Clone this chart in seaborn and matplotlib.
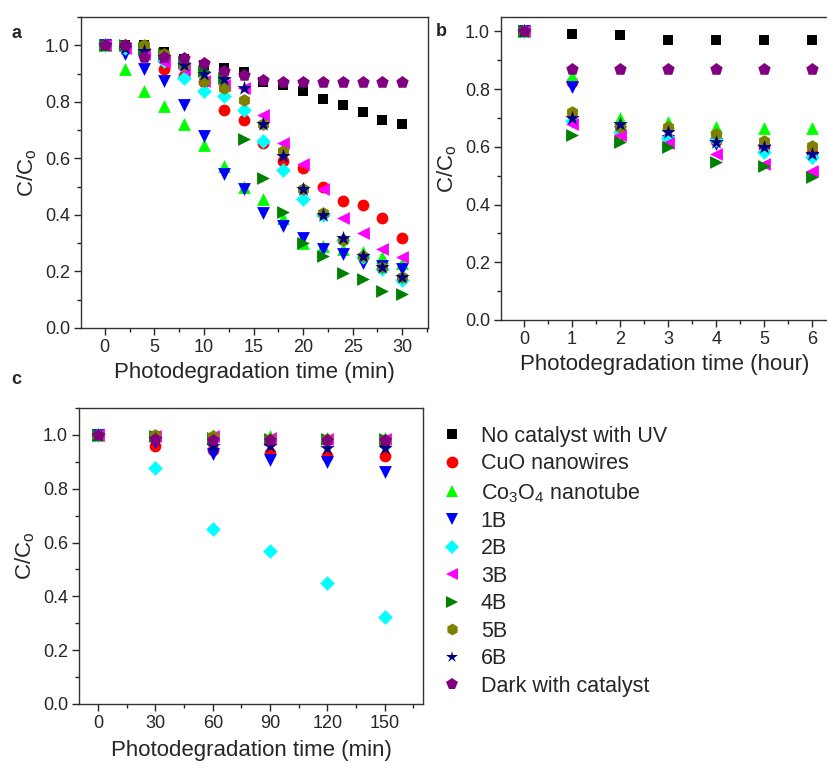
import numpy as np
import pandas as pd
import matplotlib
matplotlib.use("Agg")
import matplotlib.pyplot as plt
from matplotlib.lines import Line2D
from matplotlib.ticker import MultipleLocator
import seaborn as sns

# ---------------- data ----------------
series = ["No catalyst with UV", "CuO nanowires", "Co$_3$O$_4$ nanotube", "1B", "2B",
          "3B", "4B", "5B", "6B", "Dark with catalyst"]
colors = ["#000000", "#ff0000", "#00ff00", "#0000ff", "#00ffff",
          "#ff00ff", "#008000", "#808000", "#000080", "#800080"]
markers = ["s", "o", "^", "v", "D", "<", ">", "h", "*", "p"]

# panel a (min)
time_a = [0, 2, 4, 6, 8, 10, 12, 14, 16, 18, 20, 22, 24, 26, 28, 30]
noUV_a = [1.0, 1.0, 1.0, 0.975, 0.95, 0.93, 0.92, 0.905, 0.87, 0.86, 0.84, 0.81, 0.79, 0.765, 0.735, 0.72]
CuO_a = [1.0, 0.99, 0.97, 0.915, 0.89, 0.87, 0.77, 0.735, 0.655, 0.59, 0.565, 0.50, 0.45, 0.435, 0.39, 0.32]
Co3O4_a = [1.0, 0.915, 0.84, 0.785, 0.72, 0.647, 0.572, 0.50, 0.455, 0.39, 0.30, 0.29, 0.28, 0.27, 0.25, 0.23]
oneB_a = [1.0, 0.97, 0.915, 0.875, 0.79, 0.68, 0.545, 0.49, 0.405, 0.36, 0.32, 0.28, 0.26, 0.23, 0.22, 0.21]
twoB_a = [1.0, 0.99, 0.97, 0.945, 0.885, 0.84, 0.82, 0.77, 0.66, 0.56, 0.455, 0.40, 0.31, 0.25, 0.21, 0.17]
threeB_a = [1.0, 0.99, 0.97, 0.94, 0.915, 0.875, 0.86, 0.85, 0.755, 0.655, 0.58, 0.49, 0.39, 0.335, 0.28, 0.25]
fourB_a = [1.0, 1.0, 0.99, 0.97, 0.94, 0.91, 0.885, 0.67, 0.53, 0.41, 0.30, 0.255, 0.195, 0.175, 0.13, 0.12]
fiveB_a = [1.0, 1.0, 1.0, 0.97, 0.93, 0.875, 0.85, 0.805, 0.72, 0.625, 0.49, 0.405, 0.31, 0.255, 0.215, 0.18]
sixB_a = [1.0, 0.99, 0.98, 0.96, 0.93, 0.90, 0.88, 0.85, 0.72, 0.61, 0.49, 0.40, 0.32, 0.255, 0.215, 0.18]
dark_a = [1.0, 1.0, 0.96, 0.957, 0.955, 0.936, 0.91, 0.894, 0.876, 0.87, 0.87, 0.87, 0.87, 0.87, 0.87, 0.87]

# panel b (hour)
time_b = [0, 1, 2, 3, 4, 5, 6]
noUV_b = [1.0, 0.992, 0.986, 0.972, 0.972, 0.972, 0.972]
CuO_b = [1.0, 0.825, 0.64, 0.63, 0.62, 0.60, 0.58]
Co3O4_b = [1.0, 0.844, 0.70, 0.686, 0.67, 0.667, 0.667]
oneB_b = [1.0, 0.807, 0.65, 0.62, 0.61, 0.59, 0.56]
twoB_b = [1.0, 0.69, 0.652, 0.632, 0.625, 0.582, 0.565]
threeB_b = [1.0, 0.678, 0.64, 0.614, 0.574, 0.54, 0.517]
fourB_b = [1.0, 0.64, 0.617, 0.60, 0.548, 0.533, 0.494]
fiveB_b = [1.0, 0.72, 0.67, 0.67, 0.646, 0.62, 0.604]
sixB_b = [1.0, 0.70, 0.68, 0.652, 0.617, 0.60, 0.574]
dark_b = [1.0, 0.871, 0.871, 0.871, 0.871, 0.871, 0.871]

# panel c (min, dark)
time_c = [0, 30, 60, 90, 120, 150]
noUV_c = [1.0, 0.995, 0.99, 0.98, 0.98, 0.975]
CuO_c = [1.0, 0.96, 0.944, 0.932, 0.923, 0.921]
Co3O4_c = [1.0, 1.0, 1.0, 0.995, 0.99, 0.99]
oneB_c = [1.0, 0.975, 0.93, 0.905, 0.90, 0.862]
twoB_c = [1.0, 0.878, 0.649, 0.569, 0.451, 0.323]
threeB_c = [1.0, 0.995, 0.995, 0.99, 0.985, 0.985]
fourB_c = [1.0, 0.995, 0.99, 0.985, 0.985, 0.985]
fiveB_c = [1.0, 1.0, 0.995, 0.985, 0.985, 0.98]
sixB_c = [1.0, 0.985, 0.96, 0.96, 0.952, 0.952]
dark_c = [1.0, 0.985, 0.98, 0.98, 0.98, 0.98]

vals_a = [noUV_a, CuO_a, Co3O4_a, oneB_a, twoB_a, threeB_a, fourB_a, fiveB_a, sixB_a, dark_a]
vals_b = [noUV_b, CuO_b, Co3O4_b, oneB_b, twoB_b, threeB_b, fourB_b, fiveB_b, sixB_b, dark_b]
vals_c = [noUV_c, CuO_c, Co3O4_c, oneB_c, twoB_c, threeB_c, fourB_c, fiveB_c, sixB_c, dark_c]


def long_df(t, vals):
    rows = []
    for name, v in zip(series, vals):
        for ti, vi in zip(t, v):
            rows.append({"t": ti, "C": vi, "series": name})
    return pd.DataFrame(rows)


# ---------------- style ----------------
sns.set_theme(style="ticks")
plt.rcParams["font.family"] = ["Liberation Sans", "DejaVu Sans"]
plt.rcParams["mathtext.fontset"] = "custom"
plt.rcParams["mathtext.rm"] = "Liberation Sans"
plt.rcParams["mathtext.it"] = "Liberation Sans"
plt.rcParams["axes.linewidth"] = 1.0

W, H = 827, 763
fig = plt.figure(figsize=(W / 100, H / 100), dpi=100)


def px_axes(left, top, right, bottom):
    return fig.add_axes([left / W, (H - bottom) / H, (right - left) / W, (bottom - top) / H])


ax_a = px_axes(81, 17, 428, 328)
ax_b = px_axes(501, 17, 829, 320)
ax_c = px_axes(79, 408, 423, 704)

palette = dict(zip(series, colors))
mk = dict(zip(series, markers))
sizes = {"s": 62, "o": 72, "^": 85, "v": 85, "D": 56, "<": 85, ">": 85, "h": 82, "*": 120, "p": 88}

for ax, t, vals in [(ax_a, time_a, vals_a), (ax_b, time_b, vals_b), (ax_c, time_c, vals_c)]:
    df = long_df(t, vals)
    for name in series:
        sub = df[df["series"] == name]
        sns.scatterplot(data=sub, x="t", y="C", ax=ax, color=palette[name], marker=mk[name],
                        s=sizes[mk[name]], linewidth=0, legend=False, zorder=3)
    ax.set_xlabel("")
    ax.set_ylabel("C/C$_\\mathrm{o}$", fontsize=16)
    ax.yaxis.set_major_locator(MultipleLocator(0.2))
    ax.yaxis.set_minor_locator(MultipleLocator(0.1))
    ax.yaxis.set_major_formatter(matplotlib.ticker.FormatStrFormatter("%.1f"))
    ax.tick_params(which="major", direction="out", length=5, width=1, labelsize=13,
                   top=False, right=False, pad=3)
    ax.tick_params(which="minor", direction="out", length=3, width=1, top=False, right=False)
    for sp in ax.spines.values():
        sp.set_visible(True)
        sp.set_color("#333333")

ax_a.set_xlim(-2.4, 32.6)
ax_a.set_ylim(0, 1.1)
ax_a.xaxis.set_major_locator(MultipleLocator(5))
ax_a.xaxis.set_minor_locator(MultipleLocator(2.5))
ax_a.set_xlabel("Photodegradation time (min)", fontsize=16, labelpad=4)

ax_b.set_xlim(-0.48, 6.35)
ax_b.set_ylim(0, 1.05)
ax_b.xaxis.set_major_locator(MultipleLocator(1))
ax_b.xaxis.set_minor_locator(MultipleLocator(0.5))
ax_b.set_xlabel("Photodegradation time (hour)", fontsize=16, labelpad=4)

ax_c.set_xlim(-10, 170)
ax_c.set_ylim(0, 1.1)
ax_c.xaxis.set_major_locator(MultipleLocator(30))
ax_c.xaxis.set_minor_locator(MultipleLocator(15))
ax_c.set_xlabel("Photodegradation time (min)", fontsize=16, labelpad=6)

for lab, (x, y) in {"a": (11, 33), "b": (436, 31), "c": (11, 379)}.items():
    fig.text(x / W, (H - y) / H, lab, fontsize=13, fontweight="bold", va="center", ha="left")

handles = [Line2D([], [], linestyle="none", marker=m, color=c, markeredgewidth=0,
                  markersize=(7.5 if m in "sD" else 9 if m == "*" else 8.5))
           for m, c in zip(markers, colors)]
fig.legend(handles, series, loc="upper left", bbox_to_anchor=(441 / W, (H - 426) / H),
           frameon=False, fontsize=15.5, borderpad=0, borderaxespad=0, handlelength=1.0,
           handletextpad=0.85, labelspacing=0.3)

fig.savefig("out.png", dpi=100)
